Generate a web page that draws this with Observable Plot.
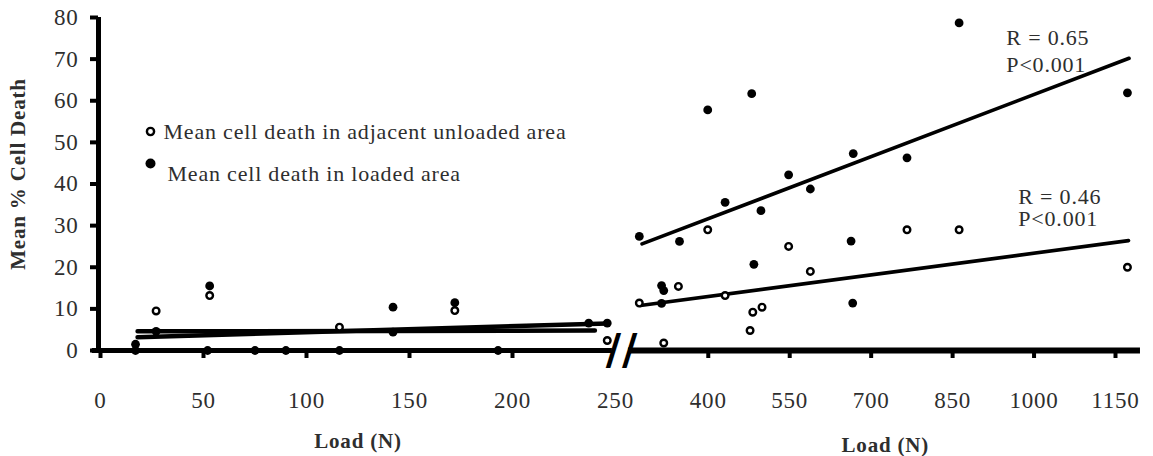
<!DOCTYPE html>
<html><head><meta charset="utf-8">
<script src="https://cdn.jsdelivr.net/npm/d3@7"></script>
<script src="https://cdn.jsdelivr.net/npm/@observablehq/plot@0.6"></script>
<style>body{margin:0;background:#fff} #chart svg{display:block}</style>
</head><body><div id="chart"></div>
<script>
// tick labels
const xTicks = [0, 50, 100, 150, 200, 250, 400, 550, 700, 850, 1000, 1150];
const yTicks = [0, 10, 20, 30, 40, 50, 60, 70, 80];

// Mean cell death in loaded area (filled)
const loadedLoad  = [17, 17, 27, 52, 53, 75, 90, 116, 142, 142, 172, 193, 237, 246,
                     273, 314, 318, 314, 347, 399, 431, 480, 484, 497, 548, 588, 667, 663, 666, 766, 862, 1172];
const loadedDeath = [1.5, 0, 4.6, 0, 15.5, 0, 0, 0, 10.4, 4.4, 11.5, 0, 6.6, 6.6,
                     27.4, 15.6, 14.4, 11.3, 26.2, 57.8, 35.6, 61.7, 20.7, 33.6, 42.2, 38.8, 47.3, 26.3, 11.4, 46.3, 78.7, 61.9];

// Mean cell death in adjacent unloaded area (open)
const unloadedLoad  = [27, 53, 116, 172, 246,
                       273, 318, 345, 399, 431, 477, 482, 499, 548, 588, 766, 862, 1172];
const unloadedDeath = [9.5, 13.2, 5.6, 9.6, 2.4,
                       11.4, 1.8, 15.4, 29, 13.2, 4.8, 9.2, 10.4, 25, 19, 29, 29, 20];

// regression lines (end points)
const fitLoadedLow    = [[18, 3.2], [246, 6.5]];
const fitUnloadedLow  = [[18, 4.6], [240, 4.8]];
const fitLoadedHigh   = [[278, 25.6], [1175, 70.2]];
const fitUnloadedHigh = [[275, 10.8], [1174, 26.4]];

const statLabels = ["R = 0.65", "P<0.001", "R = 0.46", "P<0.001"];
const statX = [949, 949, 971, 971];
const statY = [73.3, 66.8, 35.3, 29.8];

const legendLabels = ["Mean cell death in adjacent unloaded area", "Mean cell death in loaded area"];

const loaded = loadedLoad.map((x, i) => ({x, y: loadedDeath[i]}));
const unloaded = unloadedLoad.map((x, i) => ({x, y: unloadedDeath[i]}));
const stats = statLabels.map((t, i) => ({t, x: statX[i], y: statY[i]}));
const line = (pts) => pts.map(([x, y]) => ({x, y}));

const serif = "Liberation Serif";
const txt = "#2e2e2e";

const chart = Plot.plot({
  width: 1153, height: 456,
  marginLeft: 98, marginRight: 13, marginTop: 17, marginBottom: 106,
  style: {fontFamily: serif, background: "#fff", color: "#000", letterSpacing: "0.8px"},
  x: {type: "linear", domain: [0, 250, 250.5, 1150], range: [100, 615, 626.6, 1115]},
  y: {domain: [0, 80]},
  marks: [
    // axis lines
    Plot.ruleX([0], {y1: 0, y2: 80, strokeWidth: 5, dx: -2}),
    Plot.ruleY([0], {x1: -4, x2: 248.5, strokeWidth: 5}),
    Plot.ruleY([0], {x1: 253, x2: 1196, strokeWidth: 6}),
    // break marks
    Plot.text(["//"], {x: 250.28, y: 0, text: d => d, fontSize: 42, fontWeight: "bold", fontFamily: "DejaVu Sans", fill: "#000"}),
    // ticks
    Plot.axisY({ticks: yTicks, tickSize: 8, tickPadding: 12, strokeWidth: 4, fontSize: 23, label: null, fill: txt, stroke: "#000"}),
    Plot.axisX({ticks: xTicks.filter(d => d !== 250), tickSize: 8, strokeWidth: 4, tickFormat: () => "", label: null}),
    Plot.axisX({ticks: xTicks, tickSize: 0, tickPadding: 41, fontSize: 23, label: null, fill: txt, tickFormat: d => String(d)}),
    // regression lines
    Plot.line(line(fitLoadedLow), {x: "x", y: "y", strokeWidth: 4.5}),
    Plot.line(line(fitUnloadedLow), {x: "x", y: "y", strokeWidth: 4.5}),
    Plot.line(line(fitLoadedHigh), {x: "x", y: "y", strokeWidth: 3.6}),
    Plot.line(line(fitUnloadedHigh), {x: "x", y: "y", strokeWidth: 3.6}),
    // points
    Plot.dot(loaded, {x: "x", y: "y", r: 4.4, fill: "#000"}),
    Plot.dot(unloaded, {x: "x", y: "y", r: 3.3, fill: "#fff", stroke: "#000", strokeWidth: 2.4}),
    // stats
    Plot.text(stats, {x: "x", y: "y", text: "t", textAnchor: "start", lineAnchor: "bottom", fontSize: 22, fill: txt}),
    // axis titles
    Plot.text(["Load (N)"], {x: 125, frameAnchor: "bottom", text: d => d, dy: 97, lineAnchor: "bottom", fontSize: 21, fontWeight: "bold", fill: txt}),
    Plot.text(["Load (N)"], {x: 726, frameAnchor: "bottom", text: d => d, dy: 101, lineAnchor: "bottom", fontSize: 21, fontWeight: "bold", fill: txt}),
    Plot.text(["Mean % Cell Death"], {frameAnchor: "left", text: d => d, rotate: -90, textAnchor: "middle", dx: -80, dy: -10, fontSize: 21, fontWeight: "bold", fill: txt}),
    // legend
    Plot.dot([legendLabels[0]], {frameAnchor: "top-left", x: null, y: null, dx: 52, dy: 114, r: 3.6, fill: "#fff", stroke: "#000", strokeWidth: 2.4}),
    Plot.dot([legendLabels[1]], {frameAnchor: "top-left", x: null, y: null, dx: 52, dy: 146, r: 5, fill: "#000"}),
    Plot.text([legendLabels[0]], {frameAnchor: "top-left", text: d => d, dx: 65, dy: 121, textAnchor: "start", lineAnchor: "bottom", fontSize: 22, fill: txt}),
    Plot.text([legendLabels[1]], {frameAnchor: "top-left", text: d => d, dx: 69, dy: 163, textAnchor: "start", lineAnchor: "bottom", fontSize: 22, fill: txt})
  ]
});
document.getElementById("chart").append(chart);
</script>
</body></html>
